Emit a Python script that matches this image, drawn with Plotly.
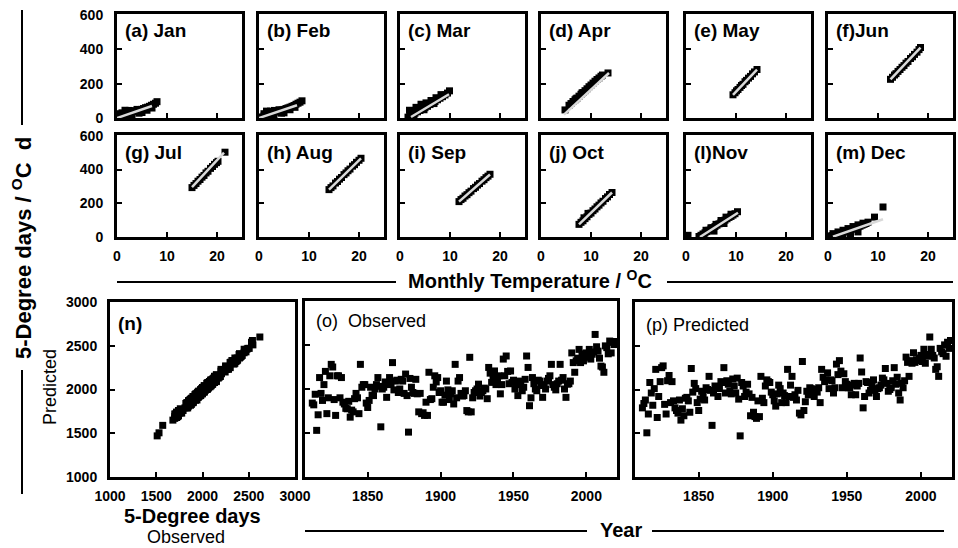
import plotly.graph_objects as go

W, H = 958, 548
FONT = "Arial, Liberation Sans, sans-serif"

# ---- monthly panels: mean monthly temperature (degC) vs 5-degree days ----
JAN_T = [0.0, 0.4, 0.9, 1.3, 1.7, 2.1, 2.5, 2.9, 3.3, 3.7, 4.1, 4.5, 4.9, 5.3, 5.7, 6.1, 6.5, 6.9, 7.3, 7.7, 8.0,
         1.6, 2.4, 3.2, 4.0, 1.0, 3.0, 5.0, 6.0, 7.0, 2.0, 4.4, 0.5]
JAN_DD = [3, 8, 15, 20, 24, 28, 32, 36, 38, 41, 44, 47, 50, 55, 60, 63, 68, 74, 80, 86, 95,
          45, 44, 42, 50, 30, 20, 32, 45, 58, 12, 28, 25]
FEB_T = [0.0, 0.5, 1.0, 1.4, 1.8, 2.2, 2.6, 3.0, 3.4, 3.8, 4.2, 4.6, 5.0, 5.4, 5.8, 6.2, 6.6, 7.0, 7.4, 7.8, 8.2, 8.6,
         1.5, 2.3, 3.1, 4.0, 1.0, 3.0, 5.0, 6.2, 7.2, 2.0, 4.5]
FEB_DD = [2, 6, 12, 17, 21, 25, 29, 33, 36, 40, 43, 47, 50, 55, 59, 63, 68, 73, 80, 86, 92, 100,
          40, 40, 44, 48, 25, 16, 30, 48, 62, 10, 28]
MAR_T = [1.6, 2.0, 2.5, 3.0, 3.5, 4.0, 4.5, 5.0, 5.5, 6.0, 6.5, 7.0, 7.5, 8.0, 8.5, 9.0, 9.5, 9.9,
         1.9, 3.2, 4.2, 5.2, 6.2, 7.2, 8.2, 2.8, 4.8, 6.8, 2.2]
MAR_DD = [5, 12, 20, 28, 36, 44, 52, 60, 68, 78, 86, 96, 106, 115, 124, 134, 145, 158,
          45, 62, 80, 88, 102, 118, 136, 12, 48, 84, 2]
APR_T = [4.8, 5.6, 6.0, 6.4, 6.8, 7.2, 7.6, 8.0, 8.4, 8.8, 9.2, 9.6, 10.0, 10.4, 10.8, 11.2, 11.6, 12.0, 12.3, 13.4, 7.0, 8.2]
APR_DD = [47, 74, 84, 96, 106, 116, 127, 138, 148, 159, 170, 182, 192, 203, 214, 224, 233, 243, 250, 262, 112, 146]
MAY_T = [9.4, 9.8, 10.1, 10.4, 10.8, 11.1, 11.4, 11.8, 12.1, 12.5, 12.9, 13.3, 13.7, 14.2]
MAY_DD = [135, 147, 158, 166, 178, 189, 196, 211, 219, 232, 242, 257, 268, 282]
JUN_T = [12.5, 12.9, 13.3, 13.6, 14.0, 14.4, 14.8, 15.2, 15.6, 16.0, 16.5, 16.9, 17.3, 17.8, 18.2, 18.5]
JUN_DD = [225, 237, 250, 258, 271, 282, 295, 305, 319, 329, 346, 356, 370, 383, 398, 410]
JUL_T = [15.0, 15.4, 15.8, 16.2, 16.6, 17.0, 17.4, 17.8, 18.2, 18.7, 19.1, 19.5, 19.9, 20.2, 21.6]
JUL_DD = [293, 306, 317, 331, 341, 355, 365, 380, 390, 407, 418, 431, 441, 449, 503]
AUG_T = [14.0, 14.4, 14.8, 15.3, 15.7, 16.1, 16.5, 17.0, 17.4, 17.8, 18.2, 18.7, 19.1, 19.5, 20.0, 20.4]
AUG_DD = [281, 293, 303, 320, 329, 343, 353, 370, 380, 393, 403, 420, 429, 443, 455, 467]
SEP_T = [11.8, 12.2, 12.6, 13.0, 13.4, 13.8, 14.2, 14.7, 15.1, 15.5, 15.9, 16.4, 16.8, 17.2, 17.6, 18.0]
SEP_DD = [210, 222, 230, 243, 251, 263, 272, 287, 295, 308, 317, 331, 340, 352, 361, 372]
OCT_T = [7.6, 8.0, 8.4, 8.8, 9.2, 9.6, 10.0, 10.4, 10.8, 11.2, 11.6, 12.0, 12.4, 12.9, 13.3, 13.7, 14.2, 8.6, 9.4]
OCT_DD = [75, 87, 96, 109, 120, 134, 142, 156, 166, 179, 189, 202, 212, 228, 238, 252, 264, 114, 140]
NOV_T = [0.4, 2.6, 3.0, 3.4, 3.8, 4.2, 4.6, 5.0, 5.4, 5.8, 6.2, 6.6, 7.0, 7.4, 7.8, 8.2, 8.6, 9.0, 9.4, 9.8, 10.3,
         4.0, 5.0, 6.0, 7.0, 8.0, 9.0, 3.6, 5.6, 7.6]
NOV_DD = [10, 3, 10, 18, 25, 32, 40, 47, 55, 62, 70, 78, 85, 93, 100, 108, 116, 122, 130, 138, 150,
          40, 55, 75, 98, 118, 135, 8, 35, 80]
DEC_T = [0.0, 0.4, 0.8, 1.2, 1.6, 2.0, 2.4, 2.8, 3.2, 3.6, 4.0, 4.4, 4.8, 5.2, 5.6, 6.0, 6.4, 6.8, 7.2, 7.6, 8.0,
         9.3, 11.0, 1.0, 2.0, 3.0, 4.0, 5.0, 6.0, 7.0, 3.0, 4.5, 6.0]
DEC_DD = [2, 5, 8, 12, 15, 18, 22, 26, 30, 34, 38, 42, 46, 50, 55, 60, 64, 70, 75, 80, 88,
          118, 178, 20, 30, 40, 50, 62, 72, 82, 5, 15, 30]

MONTH_T = [JAN_T, FEB_T, MAR_T, APR_T, MAY_T, JUN_T, JUL_T, AUG_T, SEP_T, OCT_T, NOV_T, DEC_T]
MONTH_DD = [JAN_DD, FEB_DD, MAR_DD, APR_DD, MAY_DD, JUN_DD, JUL_DD, AUG_DD, SEP_DD, OCT_DD, NOV_DD, DEC_DD]
MONTH_LABELS = ["(a) Jan", "(b) Feb", "(c) Mar", "(d) Apr", "(e) May", "(f)Jun",
                "(g) Jul", "(h) Aug", "(i) Sep", "(j) Oct", "(l)Nov", "(m) Dec"]

# regression line end points for each month
FIT_T0 = [0.0, 0.0, 2.2, 4.6, 9.4, 12.5, 15.0, 14.0, 11.8, 7.6, 2.8, 1.0]
FIT_D0 = [0, 0, 6, 20, 135, 225, 296, 281, 210, 75, 0, 2]
FIT_T1 = [7.0, 7.6, 9.8, 13.6, 14.2, 18.5, 21.4, 20.4, 18.0, 14.2, 10.4, 11.0]
FIT_D1 = [70, 74, 138, 262, 282, 410, 500, 467, 371, 264, 144, 105]

TEMP_TICKS = [0, 10, 20]
DD_TICKS = [0, 200, 400, 600]

# ---- annual 5-degree days, observed and predicted ----
YEARS = list(range(1812, 2021))
OBSERVED = [
    1840, 1820, 1940, 1530, 1707, 2130, 1950, 1870,
    2050, 2200, 1720, 1900, 2150, 2280, 2250, 1880, 1700, 2150,
    2150, 1900, 2130, 1850, 1830, 1780, 1775, 1860, 1680, 1760,
    1740, 1890, 1950, 1900, 1720, 2280, 2020, 2050, 2050, 1840,
    1790, 1870, 2020, 1930, 1925, 2000, 2050, 2130, 2030, 1570,
    2000, 2020, 2080, 1905, 2050, 2130, 2060, 2300, 1990, 2090,
    2100, 1960, 2000, 2110, 2090, 1950, 2170, 1925, 1510, 2120,
    2020, 1960, 1950, 2110, 1945, 1740, 1950, 1720, 1730, 1700,
    1850, 1700, 2190, 1880, 1890, 2020, 2150, 2080, 2130, 1960,
    1980, 1850, 1850, 1930, 2090, 1990, 1880, 1945, 1980, 1830,
    2280, 1900, 2090, 2130, 1950, 1920, 1925, 1980, 1755, 1740,
    2360, 1740, 1900, 1960, 1980, 2000, 2055, 1920, 1960, 1980,
    2010, 2000, 1890, 2245, 2180, 2075, 2150, 2205, 2050, 2100,
    2150, 1945, 2050, 2340, 2150, 2375, 2200, 2060, 2205, 2075,
    2100, 2000, 2060, 1925, 2090, 2050, 1980, 2020, 2110, 2375,
    2245, 1810, 1900, 2130, 2060, 2000, 1980, 2100, 2090, 2040,
    1905, 2050, 2000, 2090, 2120, 2150, 2280, 2050, 2020, 1990,
    2060, 2090, 2280, 2100, 2130, 2000, 1905, 2055, 2060, 2090,
    2410, 2300, 2190, 2320, 2350, 2450, 2300, 2380, 2320, 2400,
    2410, 2360, 2450, 2340, 2395, 2420, 2620, 2480, 2430, 2350,
    2260, 2250, 2190, 2490, 2470, 2400, 2545, 2410, 2530, 2505, 2540,
]
PREDICTED = [
    1790, 1840, 1880, 1505, 1720, 2080, 1960, 1820,
    2010, 2230, 1680, 1920, 2090, 2250, 2270, 1830, 1720, 2100,
    2160, 1850, 2090, 1870, 1790, 1760, 1730, 1880, 1650, 1780,
    1700, 1900, 1910, 1870, 1740, 2240, 1970, 2070, 2010, 1850,
    1760, 1890, 1980, 1950, 1880, 2020, 2000, 2150, 1990, 1590,
    1960, 2040, 2030, 1920, 2010, 2090, 2080, 2250, 1960, 2100,
    2060, 1980, 1950, 2120, 2040, 1960, 2130, 1890, 1470, 2080,
    2040, 1920, 1970, 2060, 1950, 1700, 1910, 1740, 1690, 1670,
    1870, 1690, 2150, 1900, 1850, 2040, 2110, 2090, 2080, 1970,
    1940, 1870, 1810, 1950, 2050, 2010, 1850, 1960, 1930, 1850,
    2230, 1920, 2050, 2150, 1910, 1940, 1880, 1990, 1730, 1710,
    2320, 1760, 1860, 1980, 1940, 2020, 2010, 1940, 1920, 2000,
    1970, 2020, 1850, 2230, 2140, 2090, 2110, 2190, 2010, 2110,
    2100, 1960, 2020, 2290, 2170, 2330, 2210, 2020, 2180, 2090,
    2060, 2020, 2020, 1940, 2050, 2070, 1940, 2040, 2070, 2360,
    2200, 1790, 1920, 2090, 2080, 1960, 1990, 2060, 2110, 2000,
    1920, 2010, 2020, 2050, 2130, 2110, 2240, 2070, 1980, 2000,
    2020, 2100, 2250, 2060, 2140, 1960, 1880, 2070, 2020, 2100,
    2370, 2310, 2150, 2330, 2300, 2420, 2310, 2340, 2330, 2360,
    2390, 2320, 2460, 2300, 2400, 2380, 2600, 2460, 2390, 2360,
    2230, 2260, 2150, 2470, 2430, 2410, 2510, 2380, 2540, 2470, 2560,
]
DD_ANNUAL_TICKS = [1000, 1500, 2000, 2500, 3000]
YEAR_TICKS = [1850, 1900, 1950, 2000]


def px_x(x):
    return x / W


def px_y(y):
    return 1 - y / H


def xdom(left, right):
    return [px_x(left), px_x(right)]


def ydom(top, bottom):
    return [px_y(bottom), px_y(top)]


TICKFONT = dict(family=FONT, size=14, color="black", weight="bold")


def make_axis(domain, rng, tickvals, labels, anchor, standoff):
    return dict(
        domain=domain, range=rng, tickvals=tickvals, showticklabels=labels,
        ticks="inside", ticklen=5, tickwidth=2, tickcolor="black",
        showline=True, linewidth=3, linecolor="black", mirror=True,
        showgrid=False, zeroline=False, anchor=anchor, fixedrange=True,
        automargin=False, tickfont=TICKFONT, ticklabelstandoff=standoff,
    )


fig = go.Figure()
layout = {}
annotations = []

PANEL_LEFT = [117, 259, 400, 541, 686, 828]
PANEL_W = 125
ROW_TOP = [14, 135]
ROW_BOTTOM = [118, 237]

for i in range(12):
    row, col = divmod(i, 6)
    n = i + 1
    xa, ya = ("x" if n == 1 else f"x{n}"), ("y" if n == 1 else f"y{n}")
    left = PANEL_LEFT[col]
    top, bottom = ROW_TOP[row], ROW_BOTTOM[row]
    layout["xaxis" if n == 1 else f"xaxis{n}"] = make_axis(
        xdom(left, left + PANEL_W), [0, 25], TEMP_TICKS, row == 1, ya, 4)
    layout["yaxis" if n == 1 else f"yaxis{n}"] = make_axis(
        ydom(top, bottom), [0, 605], DD_TICKS, col == 0, xa, 8)
    fig.add_trace(go.Scatter(
        x=MONTH_T[i], y=MONTH_DD[i], mode="markers", xaxis=xa, yaxis=ya,
        marker=dict(symbol="square", size=7, color="black", line=dict(width=0)),
        showlegend=False, hoverinfo="skip"))
    fig.add_trace(go.Scatter(
        x=[FIT_T0[i], FIT_T1[i]], y=[FIT_D0[i], FIT_D1[i]], mode="lines",
        xaxis=xa, yaxis=ya, line=dict(color="#d9d9d9", width=2.5),
        showlegend=False, hoverinfo="skip"))
    annotations.append(dict(
        text=MONTH_LABELS[i], x=px_x(left + 6), y=px_y(top + 17), xref="paper", yref="paper",
        xanchor="left", yanchor="middle", showarrow=False,
        font=dict(family=FONT, size=19, color="black", weight="bold")))

# (n) observed vs predicted
layout["xaxis13"] = make_axis(xdom(110, 295), [1000, 3000], DD_ANNUAL_TICKS, True, "y13", 4)
layout["yaxis13"] = make_axis(ydom(302, 477), [1000, 3000], DD_ANNUAL_TICKS, True, "x13", 7)
fig.add_trace(go.Scatter(
    x=OBSERVED, y=PREDICTED, mode="markers", xaxis="x13", yaxis="y13",
    marker=dict(symbol="square", size=7, color="black", line=dict(width=0)),
    showlegend=False, hoverinfo="skip"))

# (o) observed and (p) predicted time series
for n, left, right, top, series in [(14, 305, 617, 301, OBSERVED), (15, 635, 952, 302, PREDICTED)]:
    layout[f"xaxis{n}"] = make_axis(xdom(left, right), [1807, 2021], YEAR_TICKS, True, f"y{n}", 4)
    layout[f"yaxis{n}"] = make_axis(ydom(top, 477), [1000, 3000], DD_ANNUAL_TICKS, False, f"x{n}", 7)
    fig.add_trace(go.Scatter(
        x=YEARS, y=series, mode="markers", xaxis=f"x{n}", yaxis=f"y{n}",
        marker=dict(symbol="square", size=7, color="black", line=dict(width=0)),
        showlegend=False, hoverinfo="skip"))


def label(text, x, y, size, bold=True, angle=0, anchor="center"):
    annotations.append(dict(
        text=text, x=px_x(x), y=px_y(y), xref="paper", yref="paper",
        xanchor=anchor, yanchor="middle", showarrow=False, textangle=angle,
        font=dict(family=FONT, size=size, color="black", weight="bold" if bold else "normal")))


label("(n)", 116, 323, 19, anchor="left")
label("(o)  Observed", 314, 321, 18, bold=False, anchor="left")
label("(p) Predicted", 644, 325, 18, bold=False, anchor="left")
label("5-Degree days / <sup>O</sup>C  d", 22, 248, 22, angle=-90)
label("Monthly Temperature / <sup>O</sup>C", 530, 279, 20)
label("Year", 621, 530, 20)
label("5-Degree days", 192, 516, 20)
label("Observed", 186, 537, 18, bold=False)
label("Predicted", 50, 387, 18, bold=False, angle=-90)

# rules flanking the shared axis titles
RULES = [
    (22, 10, 22, 125), (22, 370, 22, 494),
    (117, 282, 396, 282), (667, 282, 953, 282),
    (305, 531, 587, 531), (652, 531, 944, 531),
]
shapes = [dict(type="line", xref="paper", yref="paper",
               x0=px_x(a), y0=px_y(b), x1=px_x(c), y1=px_y(d),
               line=dict(color="black", width=2)) for a, b, c, d in RULES]

fig.update_layout(
    width=W, height=H, margin=dict(l=0, r=0, t=0, b=0, pad=0, autoexpand=False),
    paper_bgcolor="white", plot_bgcolor="white",
    annotations=annotations, shapes=shapes, showlegend=False,
    **layout,
)

fig.write_html("out.html")
